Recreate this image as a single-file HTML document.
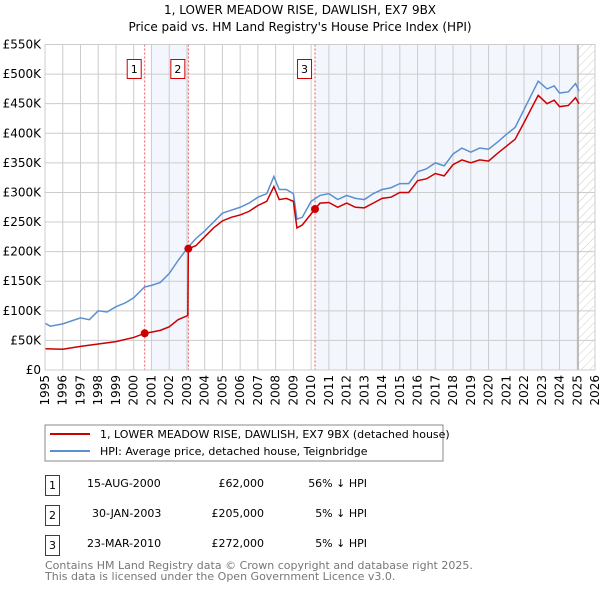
<!DOCTYPE html>
<html><head><meta charset="utf-8"><style>
body{margin:0;background:#fff;font-family:"DejaVu Sans","Liberation Sans",sans-serif;}
svg text{font-family:"DejaVu Sans","Liberation Sans",sans-serif;}
</style></head><body>
<svg width="600" height="590" viewBox="0 0 600 590">
<defs><pattern id="hatch" width="6" height="6" patternUnits="userSpaceOnUse" patternTransform="rotate(45)"><line x1="0" y1="0" x2="0" y2="6" stroke="#ccc" stroke-width="1"/></pattern></defs>
<text x="300" y="14" text-anchor="middle" font-size="12">1, LOWER MEADOW RISE, DAWLISH, EX7 9BX</text>
<text x="300" y="31" text-anchor="middle" font-size="12">Price paid vs. HM Land Registry's House Price Index (HPI)</text>
<g id="plot"></g>
<rect x="45" y="425" width="398" height="36" fill="#fff" stroke="#888"/>
<line x1="50" y1="434" x2="90" y2="434" stroke="#cc0000" stroke-width="2"/>
<text x="100" y="438" font-size="11">1, LOWER MEADOW RISE, DAWLISH, EX7 9BX (detached house)</text>
<line x1="50" y1="451" x2="90" y2="451" stroke="#5b8fd0" stroke-width="2"/>
<text x="100" y="455" font-size="11">HPI: Average price, detached house, Teignbridge</text>
<g font-size="11">
<rect x="45.5" y="475.5" width="14" height="20" fill="none" stroke="#c00"/><text x="52.5" y="489" text-anchor="middle">1</text>
<text x="87" y="487">15-AUG-2000</text><text x="264" y="487" text-anchor="end">£62,000</text><text x="367" y="487" text-anchor="end">56% ↓ HPI</text>
<rect x="45.5" y="505.5" width="14" height="20" fill="none" stroke="#c00"/><text x="52.5" y="519" text-anchor="middle">2</text>
<text x="92" y="517">30-JAN-2003</text><text x="264" y="517" text-anchor="end">£205,000</text><text x="367" y="517" text-anchor="end">5% ↓ HPI</text>
<rect x="45.5" y="535.5" width="14" height="20" fill="none" stroke="#c00"/><text x="52.5" y="549" text-anchor="middle">3</text>
<text x="87" y="547">23-MAR-2010</text><text x="264" y="547" text-anchor="end">£272,000</text><text x="367" y="547" text-anchor="end">5% ↓ HPI</text>
</g>
<text x="45" y="569" font-size="11" fill="#777">Contains HM Land Registry data © Crown copyright and database right 2025.</text>
<text x="45" y="580" font-size="11" fill="#777">This data is licensed under the Open Government Licence v3.0.</text>
</svg>
<script>
const hpiYears=[1995,1995.3,1996,1997,1997.5,1998,1998.5,1999,1999.5,2000,2000.6,2001,2001.5,2002,2002.5,2003,2003.5,2004,2004.5,2005,2005.5,2006,2006.5,2007,2007.5,2007.9,2008.2,2008.6,2009,2009.2,2009.5,2010,2010.5,2011,2011.5,2012,2012.5,2013,2013.5,2014,2014.5,2015,2015.5,2016,2016.5,2017,2017.5,2018,2018.5,2019,2019.5,2020,2020.5,2021,2021.5,2022,2022.5,2022.8,2023.3,2023.7,2024,2024.5,2024.9,2025.1];
const hpiValues=[79,74,78,88,85,100,98,107,113,122,140,143,148,163,185,205,222,235,250,265,270,275,282,292,298,327,305,305,298,255,258,285,295,298,288,295,290,288,298,305,308,315,315,335,340,350,345,365,375,368,375,373,385,398,410,440,470,488,475,480,468,470,484,472];
const ppYears=[1995,1996,1997,1998,1999,2000,2000.62,2001,2001.5,2002,2002.5,2003.05,2003.08,2003.5,2004,2004.5,2005,2005.5,2006,2006.5,2007,2007.5,2007.9,2008.2,2008.6,2009,2009.2,2009.5,2010.22,2010.5,2011,2011.5,2012,2012.5,2013,2013.5,2014,2014.5,2015,2015.5,2016,2016.5,2017,2017.5,2018,2018.5,2019,2019.5,2020,2020.5,2021,2021.5,2022,2022.5,2022.8,2023.3,2023.7,2024,2024.5,2024.9,2025.1];
const ppValues=[36,35,40,44,48,55,62,64,67,73,85,92,205,210,225,240,252,258,262,268,278,285,310,288,290,285,240,245,272,282,283,275,282,275,274,282,290,292,300,300,320,323,332,328,347,355,350,355,353,366,378,390,418,447,464,450,456,445,447,460,450];
const saleLabels=["1","2","3"];
const saleYears=[2000.62,2003.08,2010.22];
const saleValues=[62,205,272];
const yTicks=[0,50,100,150,200,250,300,350,400,450,500,550];
const xTicks=[1995,1996,1997,1998,1999,2000,2001,2002,2003,2004,2005,2006,2007,2008,2009,2010,2011,2012,2013,2014,2015,2016,2017,2018,2019,2020,2021,2022,2023,2024,2025,2026];
const X0=45,X1=595,Y0=370,Y1=44.5;
const xs=y=>X0+(y-1995)/(2026-1995)*(X1-X0);
const ys=v=>Y0-v/550*(Y0-Y1);
const NS='http://www.w3.org/2000/svg';
const g=document.getElementById('plot');
function mk(t,a){const e=document.createElementNS(NS,t);for(const k in a)e.setAttribute(k,a[k]);g.appendChild(e);return e;}
let e;
e=mk('rect',{x:xs(2001),y:Y1,width:xs(2003.08)-xs(2001),height:Y0-Y1,fill:'#eef3fc',opacity:0.7});


e=mk('rect',{x:xs(2010.22),y:Y1,width:xs(2025.05)-xs(2010.22),height:Y0-Y1,fill:'#eef3fc',opacity:0.7});


e=mk('rect',{x:xs(2025.05),y:Y1,width:X1-xs(2025.05),height:Y0-Y1,fill:'url(#hatch)'});


yTicks.forEach(v=>{
 e=mk('line',{x1:X0,x2:X1,y1:ys(v),y2:ys(v),stroke:'#ccc','stroke-width':1});
 
 
 e=mk('text',{x:X0-4,y:ys(v)+4,'text-anchor':'end','font-size':12});
 e.textContent=v===0?'£0':'£'+v+'K';
 
 
});
xTicks.forEach(y=>{
 e=mk('line',{x1:xs(y),x2:xs(y),y1:Y1,y2:Y0,stroke:'#ccc','stroke-width':1});
 
 
 e=mk('text',{x:0,y:0,'text-anchor':'end','font-size':12,transform:`translate(${xs(y)+4},${Y0+5}) rotate(-90)`});
 e.textContent=y;
 
 
});
e=mk('line',{x1:xs(2025.05),x2:xs(2025.05),y1:Y1,y2:Y0,stroke:'#999','stroke-width':1});


saleYears.forEach((y,i)=>{
 e=mk('line',{x1:xs(y),x2:xs(y),y1:Y1,y2:Y0,stroke:'#e55','stroke-width':1,'stroke-dasharray':'2,2'});
 
 
 e=mk('rect',{x:xs(y)-17.5,y:59.5,width:14,height:19,fill:'#fff',stroke:'#c00'});
 
 
 e=mk('text',{x:xs(y)-10.5,y:73,'text-anchor':'middle','font-size':11});
 e.textContent=saleLabels[i];
 
 
});
e=mk('polyline',{points:hpiYears.map((y,i)=>xs(y)+','+ys(hpiValues[i])).join(' '),fill:'none',stroke:'#5b8fd0','stroke-width':1.5});


e=mk('polyline',{points:ppYears.map((y,i)=>xs(y)+','+ys(ppValues[i])).join(' '),fill:'none',stroke:'#cc0000','stroke-width':1.5});


saleYears.forEach((y,i)=>{
 e=mk('circle',{cx:xs(y),cy:ys(saleValues[i]),r:4,fill:'#cc0000'});
 
 
});
e=mk('rect',{x:X0,y:Y1,width:X1-X0,height:Y0-Y1,fill:'none',stroke:'#ccc'});


</script>
</body></html>
